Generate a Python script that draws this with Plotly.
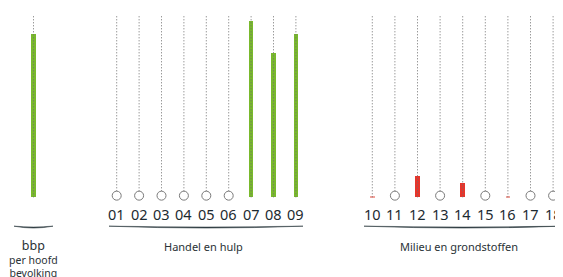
import plotly.graph_objects as go

# ---- data ----
categories = ["bbp", "01", "02", "03", "04", "05", "06", "07", "08", "09",
              "10", "11", "12", "13", "14", "15", "16", "17", "18"]
values = [0.895, None, None, None, None, None, None, 0.965, 0.79, 0.895,
          0.006, None, 0.119, None, 0.08, None, 0.006, None, None]
status = ["green", None, None, None, None, None, None, "green", "green", "green",
          "pink", None, "red", None, "red", None, "pink", None, None]
tick_labels = [""] + categories[1:]
group_names = ["Handel en hulp", "Milieu en grondstoffen"]
bbp_label = ["bbp", "per hoofd", "bevolking"]

# ---- layout helpers (pixel-based coordinates, compensating 8px page margin) ----
W, H = 563, 277
OFF = 8  # default body margin of the html page
BASE_PX, TOP_PX = 197.3, 15.0
SPAN = BASE_PX - TOP_PX


def xpos(i):
    if i == 0:
        return 33.5
    if i <= 9:
        return 116.7 + (i - 1) * 22.4
    return 372.3 + (i - 10) * 22.6


def ypaper(px):
    return 1 - (px - OFF) / H


colors = {"green": "#79b92c", "red": "#e6352b", "pink": "#f3a39c"}
xs = [xpos(i) for i in range(len(categories))]

fig = go.Figure()

# dotted guide lines
lx, ly = [], []
for x in xs:
    lx += [x, x, None]
    ly += [0, 1, None]
fig.add_trace(go.Scatter(x=lx, y=ly, mode="lines",
                         line=dict(color="#6f6f6f", width=1, dash="1px,2px"),
                         hoverinfo="skip", showlegend=False))

# bars
bx = [x for x, v in zip(xs, values) if v is not None]
bv = [v for v in values if v is not None]
bc = [colors[s] for s, v in zip(status, values) if v is not None]
fig.add_trace(go.Bar(x=bx, y=bv, width=4.6, marker=dict(color=bc, line=dict(width=0)),
                     showlegend=False))

# open circles for missing values
cx = [x for x, v in zip(xs, values) if v is None]
fig.add_trace(go.Scatter(x=cx, y=[0.009] * len(cx), mode="markers",
                         marker=dict(size=9, color="white",
                                     line=dict(color="#7a7a7a", width=1)),
                         showlegend=False))

# tick labels
for x, t in zip(xs, tick_labels):
    if t:
        fig.add_annotation(x=x, y=ypaper(213.5), xref="x", yref="paper", text=t,
                           showarrow=False, yanchor="middle",
                           font=dict(family="Noto Sans", size=14.5, color="#1c2a30"))

# braces and group labels
brace_spans = [(14, 53), (109, 303), (364, 562)]
for x0, x1 in brace_spans:
    xm = (x0 + x1) / 2
    y0 = ypaper(226.2)
    yl = ypaper(229.8)
    yu = ypaper(228.0)
    path = f"M {x0},{y0} Q {xm},{yl} {x1},{y0} Q {xm},{yu} {x0},{y0} Z"
    fig.add_shape(type="path", path=path, xref="x", yref="paper",
                  fillcolor="#2f3d42", line=dict(color="#2f3d42", width=0.6))

for name, cxm in zip(group_names, [203, 459]):
    fig.add_annotation(x=cxm, y=ypaper(246.7), xref="x", yref="paper", text=name,
                       showarrow=False, yanchor="middle",
                       font=dict(family="Noto Sans", size=11, color="#2a3236"))

bbp_text = (f'<span style="font-size:12.5px">{bbp_label[0]}</span><br>'
            + "<br>".join(bbp_label[1:]))
fig.add_annotation(x=33.5, y=ypaper(258.3), xref="x", yref="paper", text=bbp_text,
                   showarrow=False, yanchor="middle", borderpad=0,
                   font=dict(family="Noto Sans", size=10.5, color="#2a3236"))

fig.update_layout(
    width=W, height=H, margin=dict(l=0, r=0, t=0, b=0),
    paper_bgcolor="white", plot_bgcolor="white",
    xaxis=dict(range=[OFF, W + OFF], visible=False, fixedrange=True),
    yaxis=dict(range=[(BASE_PX - H - OFF) / SPAN, (BASE_PX - OFF) / SPAN],
               visible=False, fixedrange=True),
    bargap=0, showlegend=False,
)

fig.write_html("out.html")
